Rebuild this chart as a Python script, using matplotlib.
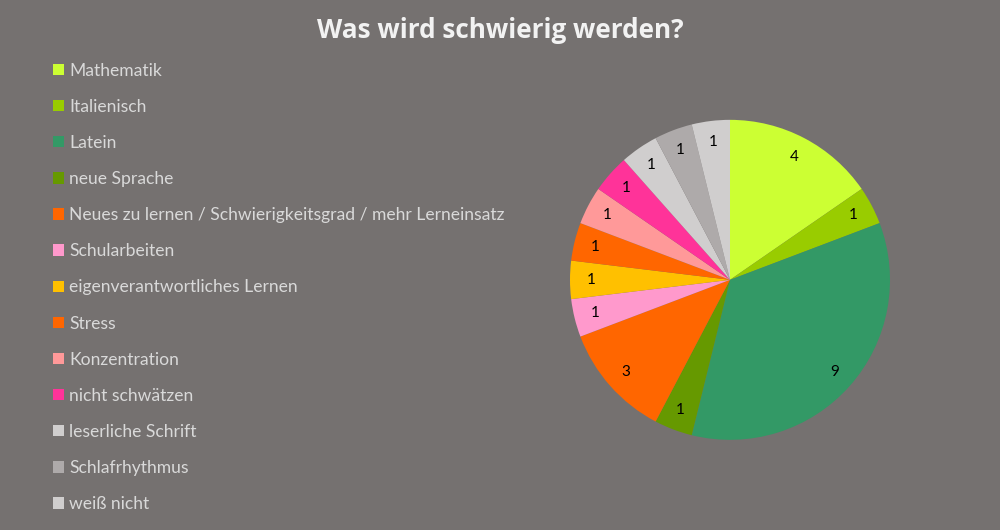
import matplotlib.pyplot as plt
from matplotlib.patches import Patch

labels = ["Mathematik", "Italienisch", "Latein", "neue Sprache",
          "Neues zu lernen / Schwierigkeitsgrad / mehr Lerneinsatz",
          "Schularbeiten", "eigenverantwortliches Lernen", "Stress",
          "Konzentration", "nicht schwätzen", "leserliche Schrift",
          "Schlafrhythmus", "weiß nicht"]
values = [4, 1, 9, 1, 3, 1, 1, 1, 1, 1, 1, 1, 1]
colors = ["#CCFF33", "#99CC00", "#339966", "#669900", "#FF6600", "#FF99CC",
          "#FFC000", "#FF6600", "#FF9999", "#FF3399", "#D0CECE", "#AEAAAA",
          "#D0CECE"]

bg = "#757170"
plt.rcParams["font.family"] = ["Lato", "DejaVu Sans"]

fig = plt.figure(figsize=(10, 5.3), dpi=100, facecolor=bg)
ax = fig.add_axes([0.57, 0.170, 0.32, 0.604])
ax.set_facecolor(bg)

total = sum(values)
wedges, _, autotexts = ax.pie(values, colors=colors, startangle=90, counterclock=False,
                              autopct=lambda p: "%d" % round(p * total / 100),
                              pctdistance=0.87, wedgeprops=dict(linewidth=0),
                              textprops=dict(color="black", fontsize=11))
ax.set_xlim(-1, 1)
ax.set_ylim(-1, 1)
ax.set_aspect("equal")
ax.axis("off")

fig.text(0.5, 0.943, "Was wird schwierig werden?", ha="center", va="center",
         fontsize=18.8, fontweight="bold", color="#F2F2F2", family=["Open Sans", "DejaVu Sans"])

handles = [Patch(facecolor=c, edgecolor="none") for c in colors]
leg = fig.legend(handles, labels, loc="upper left", bbox_to_anchor=(0.046, 0.895),
                 frameon=False, fontsize=12.6, handlelength=0.62, handleheight=0.62,
                 handletextpad=0.3, labelspacing=1.15, borderaxespad=0)
for t in leg.get_texts():
    t.set_color("#D9D9D9")

fig.savefig("out.png", dpi=100, facecolor=bg)
